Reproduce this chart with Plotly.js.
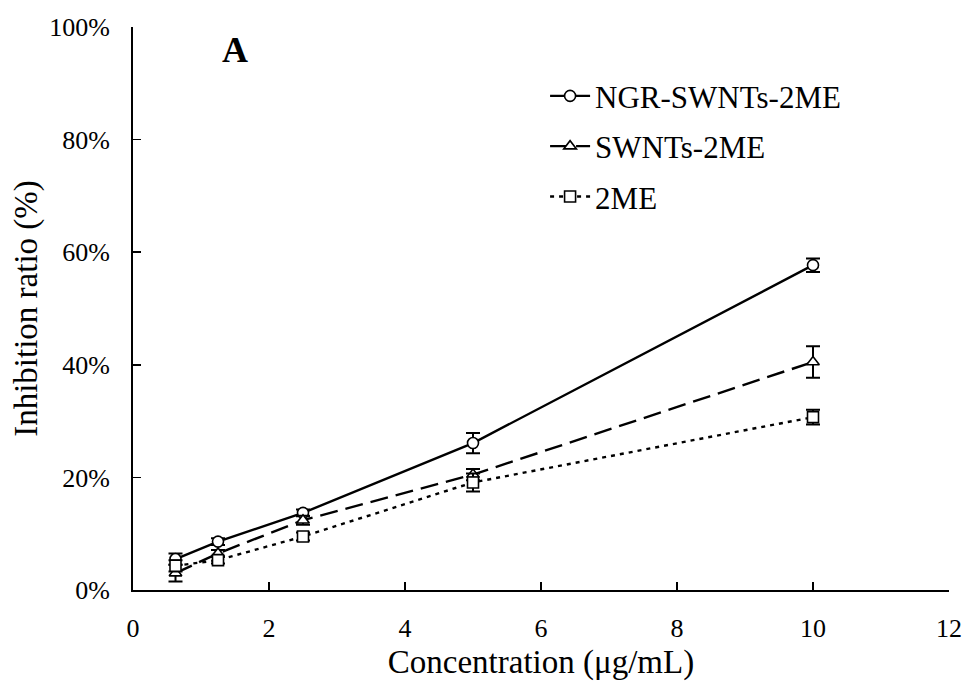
<!DOCTYPE html>
<html>
<head>
<meta charset="utf-8">
<script src="https://cdn.plot.ly/plotly-3.0.1.min.js"></script>
<style>html,body{margin:0;padding:0;background:#fff;}#chart{width:972px;height:690px;}</style>
</head>
<body>
<div id="chart"></div>
<script>
const concentration = [0.625, 1.25, 2.5, 5, 10];
const ngrValues = [0.055, 0.086, 0.137, 0.261, 0.577];
const ngrErrors = [0.010, 0.006, 0.006, 0.018, 0.012];
const swntValues = [0.030, 0.065, 0.124, 0.205, 0.405];
const swntErrors = [0.015, 0.006, 0.008, 0.010, 0.028];
const meValues = [0.043, 0.053, 0.095, 0.191, 0.307];
const meErrors = [0.010, 0.006, 0.007, 0.016, 0.013];
const seriesNames = ["NGR-SWNTs-2ME", "SWNTs-2ME", "2ME"];

function trace(name, y, err, dash, symbol) {
  return {
    x: concentration, y: y, name: name, legendgroup: name, type: 'scatter', mode: 'lines+markers',
    line: {color: '#000', width: 2.4, dash: dash},
    marker: {symbol: symbol, size: 11, color: '#fff', line: {color: '#000', width: 1.6}},
    error_y: {type: 'data', array: err, visible: true, color: '#000', thickness: 2, width: 7}
  };
}

const data = [
  trace(seriesNames[0], ngrValues, ngrErrors, 'solid', 'circle'),
  trace(seriesNames[1], swntValues, swntErrors, '18px,8px', 'triangle-up'),
  trace(seriesNames[2], meValues, meErrors, '4px,5px', 'square')
];

const font = {family: '"Liberation Serif", "Times New Roman", serif', color: '#000'};

const layout = {
  width: 972, height: 690,
  margin: {l: 133, r: 23, t: 27, b: 100},
  paper_bgcolor: '#fff', plot_bgcolor: '#fff',
  showlegend: true,
  legend: {x: 0.505, y: 0.925, xanchor: 'left', yanchor: 'top', bgcolor: 'rgba(0,0,0,0)',
           traceorder: 'grouped',
           font: Object.assign({}, font, {size: 31}), tracegroupgap: 7, itemwidth: 40},
  xaxis: {
    range: [0, 12], dtick: 2, tick0: 0, ticks: 'inside', ticklen: 8, tickwidth: 1.5, tickcolor: '#000',
    showline: true, linecolor: '#000', linewidth: 2, showgrid: false, zeroline: false,
    ticklabelstandoff: 14,
    tickfont: Object.assign({}, font, {size: 26}),
    title: {text: 'Concentration (μg/mL)', font: Object.assign({}, font, {size: 33}), standoff: 8}
  },
  yaxis: {
    range: [0, 1], dtick: 0.2, tick0: 0, tickformat: '.0%', ticks: 'inside', ticklen: 8, tickwidth: 1.5, tickcolor: '#000',
    showline: true, linecolor: '#000', linewidth: 2, showgrid: false, zeroline: false,
    ticklabelstandoff: 16,
    tickfont: Object.assign({}, font, {size: 26}),
    title: {text: 'Inhibition ratio (%)', font: Object.assign({}, font, {size: 33}), standoff: 2}
  },
  annotations: [{
    text: '<b>A</b>', x: 0.107, y: 0.998, xref: 'paper', yref: 'paper', showarrow: false,
    font: Object.assign({}, font, {size: 36})
  }]
};

Plotly.newPlot('chart', data, layout, {displayModeBar: false, staticPlot: true});
</script>
</body>
</html>
